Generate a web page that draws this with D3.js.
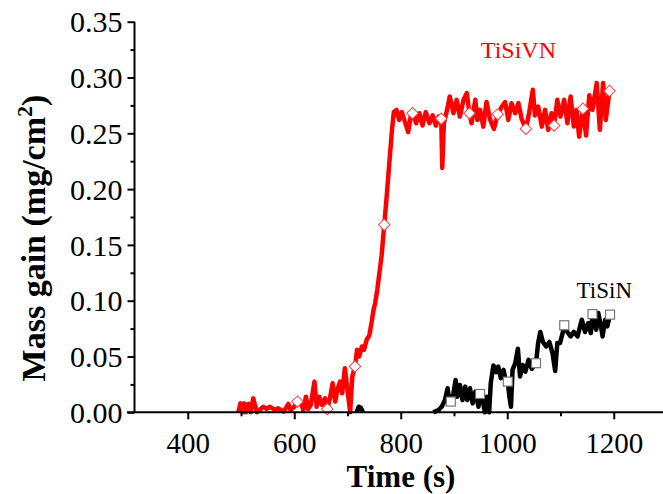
<!DOCTYPE html>
<html><head><meta charset="utf-8">
<script src="https://cdn.jsdelivr.net/npm/d3@7/dist/d3.min.js"></script>
<style>
body{margin:0;background:#fff;}
svg{display:block;font-family:"Liberation Serif","Times New Roman",serif;}
</style></head><body>
<svg id="c" width="663" height="494"></svg>
<script>
// ---- data (time in s, mass gain in mg/cm^2) ----
const xMajorTicks = [400, 600, 800, 1000, 1200];
const xMinorTicks = [500, 700, 900, 1100];
const yMajorTicks = [0, 0.05, 0.10, 0.15, 0.20, 0.25, 0.30, 0.35];
const yMinorTicks = [0.025, 0.075, 0.125, 0.175, 0.225, 0.275, 0.325];
const seriesNames = ["TiSiVN", "TiSiN"];

const tisivnTime = [495,499,503,506,509,514,518,523,527,530,542,548,554,564,570,580,589,593,600,606,614,617,622,626,631,638,642,647,652,658,662,667,672,677,681,686,690,695,700,705,709,714,718,722,727,731,736,741,745,749,752,756,760,764,769,773,778,783,787,792,797,802,808,814,819,822,829,835,841,847,854,860,866,871,876,878,881,887,892,899,905,911,918,924,929,933,940,944,949,955,961,968,975,982,990,996,1002,1008,1015,1021,1027,1035,1041,1048,1052,1058,1065,1071,1077,1083,1088,1094,1100,1107,1113,1119,1125,1130,1135,1142,1148,1154,1160,1168,1174,1180,1185,1192];
const tisivnMass = [0,0.008,0,0.008,0,0.0075,0,0.0125,0.005,0,0.005,0.003,0.005,0.002,0.0036,0.0006,0.0075,0.002,0.005,0.0096,0.0066,0.002,0.014,0.003,0.0066,0.0275,0.005,0.014,0.0066,0.0125,0.003,0.0125,0.026,0.0096,0.02,0.0275,0.017,0.0395,0.02,0,0.032,0.041,0.056,0.05,0.059,0.056,0.065,0.069,0.08,0.092,0.098,0.11,0.125,0.14,0.168,0.19,0.22,0.25,0.269,0.271,0.262,0.269,0.26,0.251,0.266,0.268,0.259,0.268,0.257,0.269,0.259,0.266,0.257,0.265,0.263,0.219,0.259,0.271,0.283,0.268,0.28,0.265,0.28,0.286,0.268,0.259,0.28,0.262,0.271,0.256,0.278,0.262,0.254,0.267,0.274,0.278,0.262,0.277,0.268,0.277,0.263,0.254,0.268,0.289,0.266,0.274,0.256,0.271,0.253,0.268,0.257,0.28,0.265,0.28,0.259,0.283,0.256,0.271,0.247,0.272,0.248,0.284,0.271,0.295,0.253,0.295,0.262,0.288];
const tisivnMarkTime = [606,662,714,769,822,876,929,982,1035,1088,1142,1192];
const tisivnMarkMass = [0.0096,0.003,0.041,0.168,0.268,0.263,0.268,0.267,0.254,0.257,0.272,0.288];

const tisinBlobTime = [717,721,725,729];
const tisinBlobMass = [0,0.005,0.004,0];
const tisinTime = [861,871,877,883,888,891,894,899,903,906,911,916,921,925,930,935,940,946,949,954,958,961,966,969,974,979,983,988,993,997,1001,1004,1007,1010,1015,1020,1024,1029,1034,1040,1046,1054,1058,1062,1067,1073,1079,1085,1090,1094,1099,1104,1107,1113,1119,1125,1132,1140,1146,1152,1157,1160,1167,1171,1176,1179,1184,1188,1193];
const tisinMass = [0,0.002,0.005,0.011,0.0215,0.011,0.0096,0.017,0.029,0.014,0.0245,0.011,0.023,0.011,0.0215,0.008,0.0185,0.005,0.0164,0.011,0,0.014,0,0.026,0.042,0.036,0.041,0.0305,0.038,0.029,0.0275,0.014,0.005,0.038,0.044,0.057,0.032,0.0424,0.0364,0.047,0.039,0.044,0.062,0.072,0.063,0.059,0.063,0.053,0.037,0.062,0.062,0.071,0.078,0.072,0.068,0.072,0.068,0.083,0.072,0.08,0.071,0.088,0.074,0.089,0.077,0.068,0.083,0.077,0.0875];
const tisinMarkTime = [894,949,1001,1054,1107,1160,1193];
const tisinMarkMass = [0.0096,0.0164,0.0275,0.044,0.078,0.088,0.0875];

// ---- chart ----
const svg = d3.select("#c");
const x = d3.scaleLinear().domain([300, 1300]).range([134.5, 667]);
const y = d3.scaleLinear().domain([0, 0.35]).range([412.3, 21.7]);
const zip = (a, b) => a.map((d, i) => [d, b[i]]);
const line = d3.line().x(d => x(d[0])).y(d => y(d[1]));

const plot = svg.append("g");
const lw = 4.5;
plot.append("path").datum(zip(tisivnTime, tisivnMass)).attr("d", line)
  .attr("fill", "none").attr("stroke", "#ff0000").attr("stroke-width", lw).attr("stroke-linejoin", "round");
plot.append("path").datum(zip(tisinBlobTime, tisinBlobMass)).attr("d", line)
  .attr("fill", "none").attr("stroke", "#000").attr("stroke-width", lw).attr("stroke-linejoin", "round");
plot.append("path").datum(zip(tisinTime, tisinMass)).attr("d", line)
  .attr("fill", "none").attr("stroke", "#000").attr("stroke-width", lw).attr("stroke-linejoin", "round");

// markers
plot.selectAll(".dm").data(zip(tisivnMarkTime, tisivnMarkMass)).join("path")
  .attr("d", d3.symbol().type(d3.symbolSquare).size(66)())
  .attr("transform", d => `translate(${x(d[0])},${y(d[1])}) rotate(45)`)
  .attr("fill", "#fff").attr("stroke", "#ff4040").attr("stroke-width", 1);
plot.selectAll(".sq").data(zip(tisinMarkTime, tisinMarkMass)).join("rect")
  .attr("x", d => x(d[0]) - 4.5).attr("y", d => y(d[1]) - 4.5)
  .attr("width", 9).attr("height", 9)
  .attr("fill", "#fff").attr("stroke", "#777").attr("stroke-width", 1.2);

// axes
const H = 412.3, L = 134.5;
const ax = svg.append("g").attr("transform", `translate(0,${H})`);
ax.call(d3.axisBottom(x).tickValues(xMajorTicks).tickSize(7).tickSizeOuter(0).tickFormat(d3.format("d")));
ax.select(".domain").remove();
ax.append("line").attr("x1", 127).attr("x2", 663).attr("y1", 0).attr("y2", 0).attr("stroke", "#000").attr("stroke-width", 2);
const axm = svg.append("g").attr("transform", `translate(0,${H})`);
axm.call(d3.axisBottom(x).tickValues(xMinorTicks).tickSize(4).tickFormat(""));
axm.select(".domain").remove();

const ay = svg.append("g").attr("transform", `translate(${L},0)`);
ay.call(d3.axisLeft(y).tickValues(yMajorTicks).tickSize(7).tickSizeOuter(0).tickFormat(d3.format(".2f")));
ay.select(".domain").remove();
ay.append("line").attr("x1", 0).attr("x2", 0).attr("y1", H).attr("y2", y(0.35)).attr("stroke", "#000").attr("stroke-width", 2);
const aym = svg.append("g").attr("transform", `translate(${L},0)`);
aym.call(d3.axisLeft(y).tickValues(yMinorTicks).tickSize(4).tickFormat(""));
aym.select(".domain").remove();

svg.selectAll(".tick line").attr("stroke", "#000").attr("stroke-width", 2);
ax.selectAll(".tick text").attr("font-size", 29).attr("font-family", "Liberation Serif").attr("fill", "#000")
  .attr("y", 41).attr("dy", 0);
ay.selectAll(".tick text").attr("font-size", 30).attr("font-family", "Liberation Serif").attr("fill", "#000")
  .attr("x", -12).attr("dy", "0.34em");

// titles
svg.append("text").attr("x", 401).attr("y", 487).attr("text-anchor", "middle")
  .attr("font-size", 31).attr("font-weight", "bold").text("Time (s)");
const yt = svg.append("text").attr("transform", "translate(45,238) rotate(-90)").attr("text-anchor", "middle")
  .attr("font-size", 34).attr("font-weight", "bold");
yt.append("tspan").text("Mass gain (mg/cm");
yt.append("tspan").attr("dy", -13).attr("font-size", 22).text("2");
yt.append("tspan").attr("dy", 13).text(")");

// series labels
svg.append("text").attr("x", 556).attr("y", 58).attr("text-anchor", "end")
  .attr("font-size", 24).attr("fill", "#ff0000").text(seriesNames[0]);
svg.append("text").attr("x", 632).attr("y", 298).attr("text-anchor", "end")
  .attr("font-size", 23).attr("fill", "#000").text(seriesNames[1]);
</script>
</body></html>
